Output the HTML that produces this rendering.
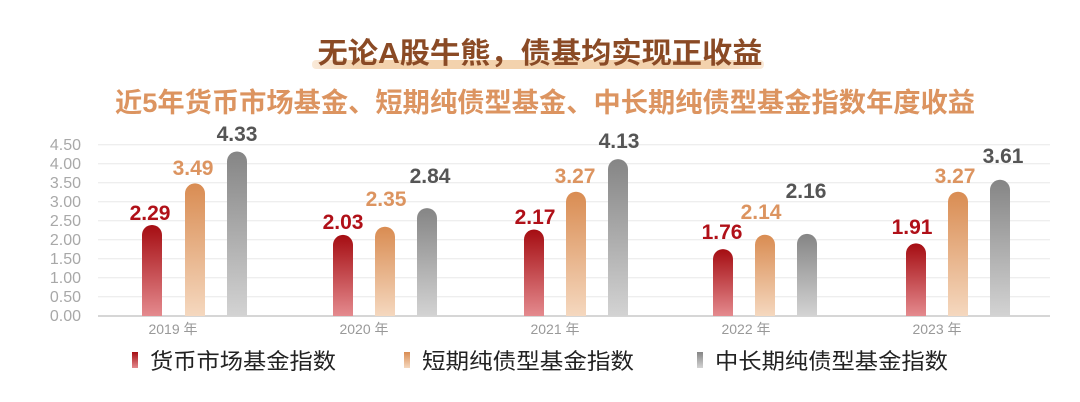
<!DOCTYPE html>
<html><head><meta charset="utf-8">
<style>
html,body{margin:0;padding:0;background:#fff;}
svg{display:block;font-family:"Liberation Sans","Noto Sans CJK SC",sans-serif;}
</style></head>
<body>
<svg width="1080" height="402" viewBox="0 0 1080 402" xmlns="http://www.w3.org/2000/svg">
<defs>
<linearGradient id="gr" x1="0" y1="0" x2="0" y2="1"><stop offset="0" stop-color="#a50d12"/><stop offset="1" stop-color="#e48a8e"/></linearGradient>
<linearGradient id="go" x1="0" y1="0" x2="0" y2="1"><stop offset="0" stop-color="#d98c52"/><stop offset="1" stop-color="#f5d8bf"/></linearGradient>
<linearGradient id="gg" x1="0" y1="0" x2="0" y2="1"><stop offset="0" stop-color="#858585"/><stop offset="1" stop-color="#d3d3d3"/></linearGradient>
<linearGradient id="hl" x1="0" y1="0" x2="1" y2="0"><stop offset="0" stop-color="#f6dcc0" stop-opacity="0.6"/><stop offset="0.1" stop-color="#f3d2ad"/><stop offset="0.9" stop-color="#f3d2ad"/><stop offset="1" stop-color="#f6dcc0" stop-opacity="0.6"/></linearGradient>
</defs>
<rect x="312" y="60" width="452" height="9" rx="4" fill="url(#hl)"/>
<text x="540" y="63" text-anchor="middle" font-size="29" font-weight="bold" fill="#8a4a25" textLength="445" lengthAdjust="spacingAndGlyphs">无论A股牛熊，债基均实现正收益</text>
<text x="545" y="112" text-anchor="middle" font-size="27" font-weight="bold" fill="#dc9460" textLength="860" lengthAdjust="spacingAndGlyphs">近5年货币市场基金、短期纯债型基金、中长期纯债型基金指数年度收益</text>
<g stroke="#e8e8e8" stroke-width="1">
<line x1="98" x2="1050" y1="144.7" y2="144.7"/><line x1="98" x2="1050" y1="163.7" y2="163.7"/>
<line x1="98" x2="1050" y1="182.7" y2="182.7"/><line x1="98" x2="1050" y1="201.7" y2="201.7"/>
<line x1="98" x2="1050" y1="220.7" y2="220.7"/><line x1="98" x2="1050" y1="239.7" y2="239.7"/>
<line x1="98" x2="1050" y1="258.7" y2="258.7"/><line x1="98" x2="1050" y1="277.7" y2="277.7"/>
<line x1="98" x2="1050" y1="296.7" y2="296.7"/>
</g>
<line x1="98" x2="1050" y1="316" y2="316" stroke="#c8c8c8" stroke-width="1.5"/>
<g font-size="16" fill="#a8a8a8" text-anchor="end">
<text x="81" y="150">4.50</text><text x="81" y="169">4.00</text><text x="81" y="188">3.50</text>
<text x="81" y="207">3.00</text><text x="81" y="226">2.50</text><text x="81" y="245">2.00</text>
<text x="81" y="264">1.50</text><text x="81" y="283">1.00</text><text x="81" y="302">0.50</text>
<text x="81" y="321">0.00</text>
</g>
<g font-size="14" fill="#999" text-anchor="middle">
<text x="173" y="334">2019 年</text><text x="364" y="334">2020 年</text><text x="555" y="334">2021 年</text><text x="746" y="334">2022 年</text><text x="937" y="334">2023 年</text>
</g>
<g>
<path d="M142,316V235A10,10 0 0 1 162,235V316Z" fill="url(#gr)"/>
<path d="M185,316V193.4A10,10 0 0 1 205,193.4V316Z" fill="url(#go)"/>
<path d="M227,316V161.5A10,10 0 0 1 247,161.5V316Z" fill="url(#gg)"/>
<path d="M333,316V244.9A10,10 0 0 1 353,244.9V316Z" fill="url(#gr)"/>
<path d="M375,316V236.7A10,10 0 0 1 395,236.7V316Z" fill="url(#go)"/>
<path d="M417,316V218.1A10,10 0 0 1 437,218.1V316Z" fill="url(#gg)"/>
<path d="M524,316V239.5A10,10 0 0 1 544,239.5V316Z" fill="url(#gr)"/>
<path d="M566,316V201.7A10,10 0 0 1 586,201.7V316Z" fill="url(#go)"/>
<path d="M608,316V169.1A10,10 0 0 1 628,169.1V316Z" fill="url(#gg)"/>
<path d="M713,316V259.1A10,10 0 0 1 733,259.1V316Z" fill="url(#gr)"/>
<path d="M755,316V244.7A10,10 0 0 1 775,244.7V316Z" fill="url(#go)"/>
<path d="M797,316V243.9A10,10 0 0 1 817,243.9V316Z" fill="url(#gg)"/>
<path d="M906,316V253.4A10,10 0 0 1 926,253.4V316Z" fill="url(#gr)"/>
<path d="M948,316V201.7A10,10 0 0 1 968,201.7V316Z" fill="url(#go)"/>
<path d="M990,316V189.8A10,10 0 0 1 1010,189.8V316Z" fill="url(#gg)"/>
</g>
<g font-size="21" font-weight="bold" text-anchor="middle">
<text x="150" y="220" fill="#b01018">2.29</text>
<text x="193" y="175" fill="#dc9460">3.49</text>
<text x="237" y="141" fill="#555">4.33</text>
<text x="343" y="229" fill="#b01018">2.03</text>
<text x="386" y="206" fill="#dc9460">2.35</text>
<text x="430" y="183" fill="#555">2.84</text>
<text x="535" y="224" fill="#b01018">2.17</text>
<text x="575" y="183" fill="#dc9460">3.27</text>
<text x="619" y="148" fill="#555">4.13</text>
<text x="722" y="239" fill="#b01018">1.76</text>
<text x="761" y="219" fill="#dc9460">2.14</text>
<text x="806" y="198" fill="#555">2.16</text>
<text x="912" y="234" fill="#b01018">1.91</text>
<text x="955" y="183" fill="#dc9460">3.27</text>
<text x="1003" y="163" fill="#555">3.61</text>
</g>
<rect x="132" y="352" width="6" height="16" fill="url(#gr)"/>
<rect x="404" y="352" width="6" height="16" fill="url(#go)"/>
<rect x="697" y="352" width="6" height="16" fill="url(#gg)"/>
<g font-size="22" fill="#222">
<text x="150" y="369" textLength="186" lengthAdjust="spacingAndGlyphs">货币市场基金指数</text>
<text x="422" y="369" textLength="212" lengthAdjust="spacingAndGlyphs">短期纯债型基金指数</text>
<text x="715" y="369" textLength="233" lengthAdjust="spacingAndGlyphs">中长期纯债型基金指数</text>
</g>
</svg>
</body></html>
